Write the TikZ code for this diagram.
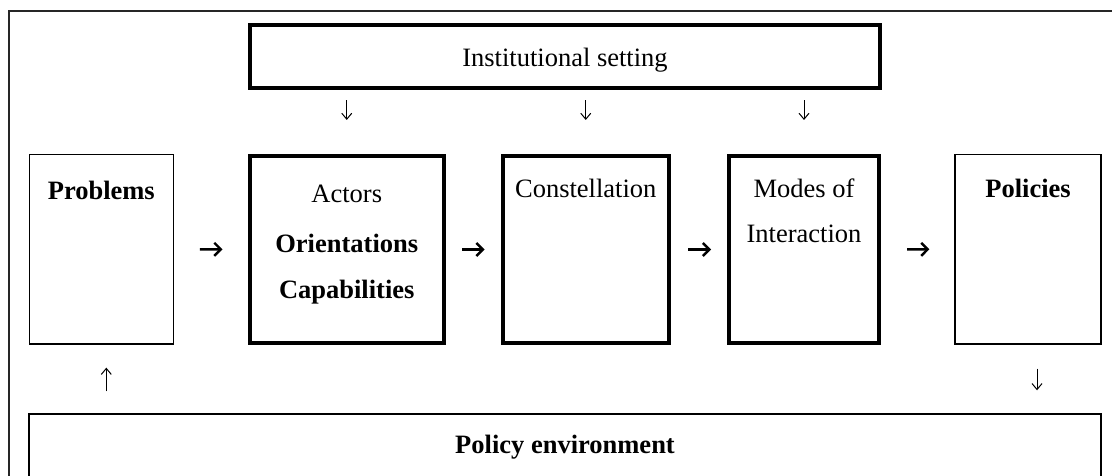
\documentclass[tikz,border=0pt]{standalone}
\usepackage{fontspec}
\setmainfont{Liberation Serif}
\usetikzlibrary{arrows.meta,positioning}

\begin{document}
\begin{tikzpicture}[x=1pt,y=-1pt]

			\tikzstyle{thinbox}=[draw=black,line width=1.2pt,inner sep=0pt]
			\tikzstyle{thickbox}=[draw=black,line width=4pt,inner sep=0pt]
			\tikzstyle{txt}=[inner sep=0pt,anchor=base,
				font=\fontsize{26.5}{30}\selectfont]
			\tikzstyle{btxt}=[txt,font=\fontsize{26.5}{30}\selectfont\bfseries]
			\tikzstyle{flow}=[line width=2.4pt,
				-{Straight Barb[length=6.5pt,width=13pt]}]
			\tikzstyle{feed}=[line width=1pt,
				-{Straight Barb[length=6pt,width=10pt]}]

			\useasboundingbox (0,0) rectangle (1112,476);
			\clip (0,0) rectangle (1112,476);
			\draw[black!85,line width=2pt] (8.5,11.5) rectangle (1130,500);

			% boxes
			\node[thickbox,minimum width=630pt,minimum height=63.5pt] (inst) at (565,56.75) {};
			\node[thinbox,minimum width=144pt,minimum height=189.7pt] (prob) at (101.3,249.2) {};
			\node[thickbox,minimum width=194.5pt,minimum height=187pt] (act) at (346.75,249.5) {};
			\node[thickbox,minimum width=166.5pt,minimum height=187pt] (cons) at (585.75,249.5) {};
			\node[thickbox,minimum width=150pt,minimum height=187pt] (mode) at (804,249.5) {};
			\node[thinbox,minimum width=146pt,minimum height=189.7pt] (pol) at (1028,249.2) {};
			\node[thinbox,minimum width=1072pt,minimum height=70pt,anchor=north] (env) at (565,413.3) {};

			% texts
			\node[txt]  (instt) at (565,67) {Institutional setting};
			\node[btxt] (probt) at (101.3,200) {Problems};
			\node[txt]  (actt)  at (346.75,203) {Actors};
			\node[btxt] (orit)  at (346.75,252) {Orientations};
			\node[btxt] (capt)  at (346.75,298) {Capabilities};
			\node[txt]  (const) at (585.75,198) {Constellation};
			\node[txt]  (modet) at (804,198) {Modes of};
			\node[txt]  (intt)  at (804,243) {Interaction};
			\node[btxt] (polt)  at (1028,198) {Policies};
			\node[btxt] (envt)  at (565,453) {Policy environment};

			% arrows
			\draw[flow,shorten <=26pt,shorten >=25pt] (prob) -- (act);
			\draw[flow,shorten <=16pt,shorten >=16pt] (act) -- (cons);
			\draw[flow,shorten <=17pt,shorten >=16pt] (cons) -- (mode);
			\draw[flow,shorten <=26pt,shorten >=25pt] (mode) -- (pol);

			\draw[feed,shorten <=10pt,shorten >=34pt] (inst.south -| act.north) -- (act.north);
			\draw[feed,shorten <=10pt,shorten >=34pt] (inst.south -| cons.north) -- (cons.north);
			\draw[feed,shorten <=10pt,shorten >=34pt] (inst.south -| mode.north) -- (mode.north);

			\coordinate (upfoot) at ([xshift=5pt]prob.south);
			\coordinate (dnfoot) at ([xshift=9pt]pol.south);
			\draw[feed,shorten <=22pt,shorten >=23pt] (env.north -| upfoot) -- (upfoot);
			\draw[feed,shorten <=24pt,shorten >=23pt] (dnfoot) -- (dnfoot |- env.north);

\end{tikzpicture}
\end{document}
